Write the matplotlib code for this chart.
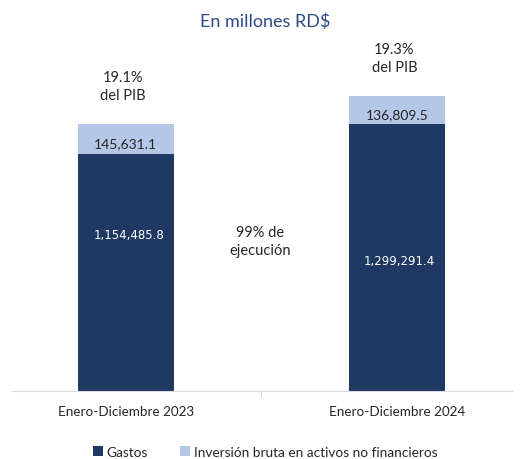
import matplotlib
matplotlib.use("Agg")
import matplotlib.pyplot as plt
from matplotlib.patches import Patch

categories = ["Enero-Diciembre 2023", "Enero-Diciembre 2024"]
gastos = [1154485.8, 1299291.4]
inversion = [145631.1, 136809.5]
pib_labels = ["19.1%\ndel PIB", "19.3%\ndel PIB"]
series_names = ["Gastos", "Inversión bruta en activos no financieros"]
title = "En millones RD$"
note = "99% de\nejecución"

DARK = "#203864"
LIGHT = "#B4C7E7"
TXT = "#262626"

plt.rcParams["font.family"] = ["Lato", "DejaVu Sans"]

W, H = 522, 460
fig = plt.figure(figsize=(W / 100, H / 100), dpi=100)
# axes placed in pixel terms of the reference
ax = fig.add_axes([12 / W, (H - 392) / H, 500 / W, 352 / H])

x = [0, 1]
bw = 0.354
ax.bar(x, gastos, width=bw, color=DARK, zorder=2)
ax.bar(x, inversion, width=bw, bottom=gastos, color=LIGHT, zorder=2)

ax.set_xlim(-0.42, 1.424)
ax.set_ylim(0, 1715000)

for s in ["top", "right", "left"]:
    ax.spines[s].set_visible(False)
ax.spines["bottom"].set_color("#D9D9D9")
ax.set_yticks([])
ax.set_xticks([0.5])
ax.set_xticklabels([""])
ax.tick_params(axis="x", length=4, color="#D9D9D9")

px = 1715000 / 352  # data units per pixel

for i, c in enumerate(categories):
    ax.text(x[i], -20 * px, c, ha="center", va="center",
            fontsize=9.7, color=TXT)

# light segment labels
for i in range(2):
    ax.text(x[i], gastos[i] + inversion[i] / 2 - 4 * px,
            f"{inversion[i]:,.1f}", ha="center", va="center",
            fontsize=10, color=TXT, zorder=3)
# dark segment labels (Excel places them above the centre)
dark_y = [156 * px, 130 * px]
for i in range(2):
    ax.text(x[i] + 0.01, dark_y[i], f"{gastos[i]:,.1f}", ha="center",
            va="center", fontsize=8.5, color="white",
            family=["DejaVu Sans"], zorder=3)
# % of GDP above the bars
for i in range(2):
    top = gastos[i] + inversion[i]
    ax.text(x[i] - 0.01, top + 38 * px, pib_labels[i], ha="center",
            va="center", fontsize=10.5, color=TXT, linespacing=1.35)

ax.text(0.495, 150 * px, note, ha="center", va="center", fontsize=10.5,
        color=TXT, linespacing=1.35)

fig.text(265 / W, 1 - 22 / H, title, ha="center", va="center",
         fontsize=13, color="#2F4A87")

handles = [Patch(facecolor=DARK), Patch(facecolor=LIGHT)]
fig.legend(handles, series_names, loc="center", bbox_to_anchor=(265 / W, 1 - 453 / H),
           ncol=2, frameon=False, fontsize=9.8, handlelength=0.75, handleheight=0.75,
           handletextpad=0.3, columnspacing=2.3, labelcolor=TXT)

fig.savefig("out.png", dpi=100)
